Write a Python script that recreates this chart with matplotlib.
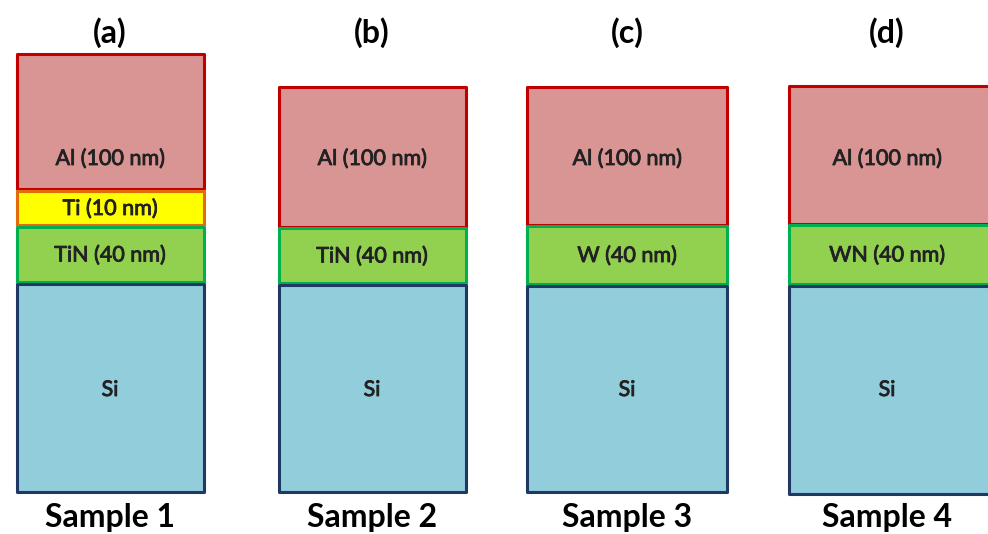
import matplotlib.pyplot as plt
import matplotlib.patheffects as pe
from matplotlib.patches import Rectangle

plt.rcParams['font.family'] = ['Lato', 'DejaVu Sans']

# stack layout (pixel units, y downward)
panels = ['(a)', '(b)', '(c)', '(d)']
samples = ['Sample 1', 'Sample 2', 'Sample 3', 'Sample 4']
x_left = [17, 279, 527, 789]
x_right = [204, 466, 727, 992]
text_x = [110, 372, 627, 887]

# layers per sample: (name, label, top, bottom)
stacks = [
    [('Al', 'Al (100 nm)', 54, 189), ('Ti', 'Ti (10 nm)', 191, 225),
     ('TiN', 'TiN (40 nm)', 227, 282), ('Si', 'Si', 284, 492)],
    [('Al', 'Al (100 nm)', 87, 227), ('TiN', 'TiN (40 nm)', 228, 283),
     ('Si', 'Si', 285, 492)],
    [('Al', 'Al (100 nm)', 87, 225), ('W', 'W (40 nm)', 226, 284),
     ('Si', 'Si', 286, 492)],
    [('Al', 'Al (100 nm)', 86, 224), ('WN', 'WN (40 nm)', 225, 284),
     ('Si', 'Si', 286, 494)],
]
label_y = {'Al': 158, 'Si': 389}

fill = {'Al': '#d99594', 'Ti': '#ffff00', 'TiN': '#92d050', 'W': '#92d050',
        'WN': '#92d050', 'Si': '#92cddc'}
edge = {'Al': '#c00000', 'Ti': '#e36c09', 'TiN': '#00b050', 'W': '#00b050',
        'WN': '#00b050', 'Si': '#1f3864'}

fig = plt.figure(figsize=(9.88, 5.34), dpi=100)
ax = fig.add_axes([0, 0, 1, 1])
ax.set_xlim(0, 988)
ax.set_ylim(534, 0)
ax.axis('off')

# make the small labels a bit heavier, like the original
heavy = [pe.withStroke(linewidth=0.6, foreground='#222222')]

for i in range(4):
    x0, x1 = x_left[i], x_right[i]
    for name, lab, top, bot in stacks[i]:
        ax.add_patch(Rectangle((x0, top), x1 - x0, bot - top, facecolor=fill[name],
                               edgecolor=edge[name], linewidth=2.2, joinstyle='round'))
        ty = label_y.get(name, (top + bot) / 2)
        ax.text(text_x[i], ty + 1, lab, ha='center', va='center',
                fontsize=15.5, color='#222222', path_effects=heavy)
    ax.text(text_x[i], 33, panels[i], ha='center', va='center', fontsize=23, fontweight='bold')
    ax.text(text_x[i], 517, samples[i], ha='center', va='center', fontsize=23, fontweight='bold')

fig.savefig('out.png', dpi=100)
